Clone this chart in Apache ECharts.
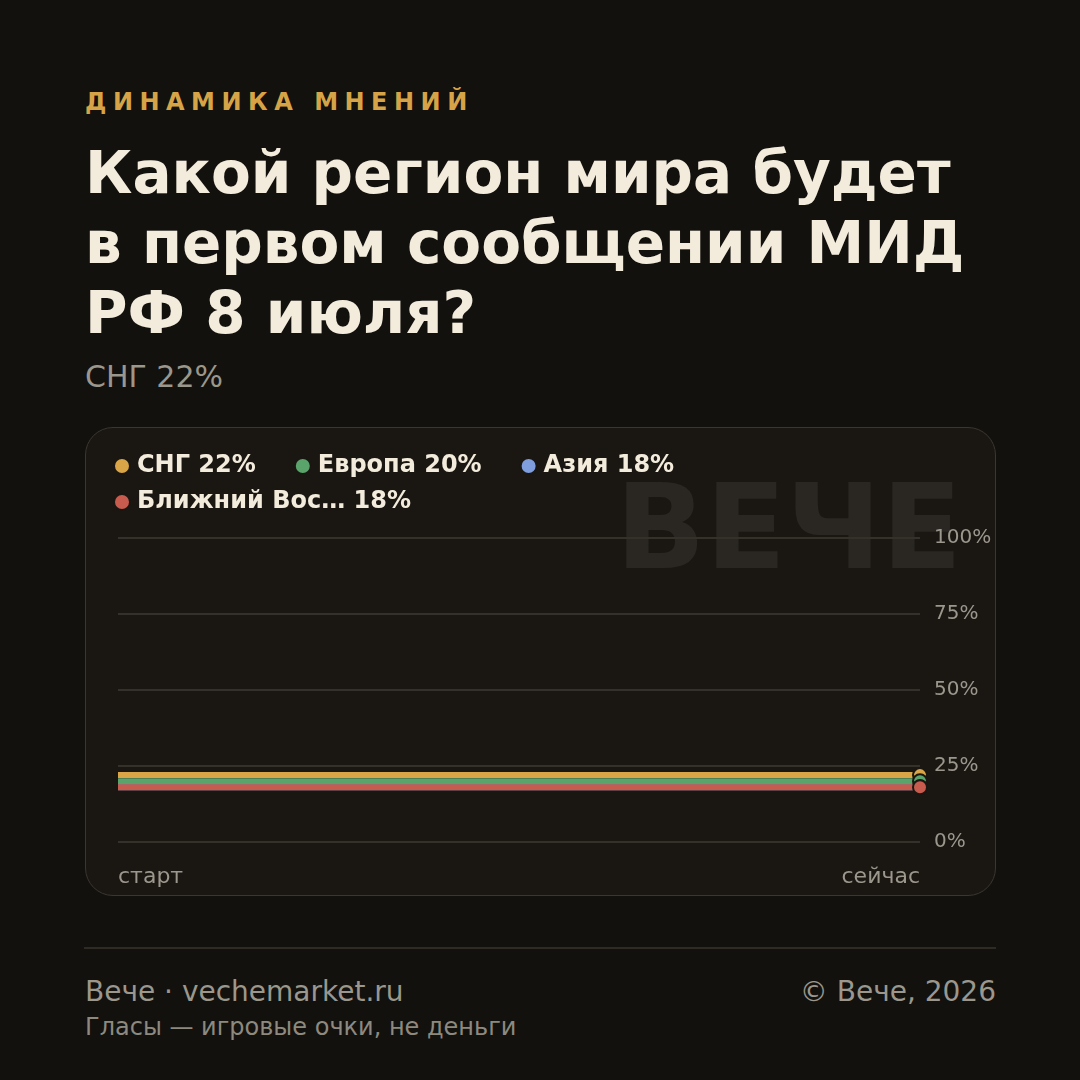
<!DOCTYPE html>
<html>
<head>
<meta charset="utf-8">
<script src="https://cdn.jsdelivr.net/npm/echarts@6/dist/echarts.min.js"></script>
<style>
  html, body { margin: 0; padding: 0; background: #12110e; }
  body { width: 1080px; height: 1080px; position: relative; overflow: hidden; font-family: "DejaVu Sans", sans-serif; }
  .abs { position: absolute; white-space: nowrap; }
  #kicker { left: 85px; top: 90px; font-size: 24px; line-height: 24px; font-weight: bold; color: #d6a446; letter-spacing: 6.5px; }
  #title { left: 85px; top: 138px; font-size: 58px; line-height: 70px; font-weight: bold; color: #f3ecdc; }
  #lead { left: 85px; top: 362px; font-size: 30px; line-height: 30px; color: #9b978c; }
  #card { left: 85px; top: 427px; width: 909px; height: 467px; background: #1a1713; border: 1px solid #3a3630; border-radius: 28px; }
  #chart { left: 85px; top: 427px; width: 911px; height: 469px; }
  #rule { left: 84px; top: 947px; width: 912px; height: 2px; background: #2e2a24; }
  #site { left: 85px; top: 978px; font-size: 28px; line-height: 28px; color: #9b978c; }
  #copy { right: 84px; top: 978px; font-size: 28px; line-height: 28px; color: #9b978c; }
  #note { left: 85px; top: 1015px; font-size: 24px; line-height: 24px; color: #8d897f; }
</style>
</head>
<body>
<div class="abs" id="kicker">ДИНАМИКА МНЕНИЙ</div>
<div class="abs" id="title">Какой регион мира будет<br>в первом сообщении МИД<br>РФ 8 июля?</div>
<div class="abs" id="lead">СНГ 22%</div>
<div class="abs" id="card"></div>
<div class="abs" id="chart"></div>
<div class="abs" id="rule"></div>
<div class="abs" id="site">Вече · vechemarket.ru</div>
<div class="abs" id="copy">© Вече, 2026</div>
<div class="abs" id="note">Гласы — игровые очки, не деньги</div>
<script>
(function() {
  var timeLabels = ['старт', 'сейчас'];
  var regionNames = ['СНГ', 'Европа', 'Азия', 'Ближний Восток'];
  var regionColors = ['#d9a547', '#5aa46c', '#7f9ede', '#c65b4e'];
  var sngValues = [22, 22];
  var europeValues = [20, 20];
  var asiaValues = [18, 18];
  var middleEastValues = [18, 18];
  var yTicks = [0, 25, 50, 75, 100];

  var allValues = [sngValues, europeValues, asiaValues, middleEastValues];
  var ink = '#f3ecdc';
  var muted = '#9b978c';
  var rule = '#34312b';

  function shortName(n) {
    return n.length > 12 ? n.slice(0, 11) + '…' : n;
  }
  var current = {};
  regionNames.forEach(function(n, i) {
    var v = allValues[i];
    current[n] = v[v.length - 1];
  });
  function legendFmt(n) { return shortName(n) + ' ' + current[n] + '%'; }

  var legendBase = {
    icon: 'circle',
    itemWidth: 16,
    itemHeight: 16,
    itemGap: 38,
    padding: 0,
    orient: 'horizontal',
    formatter: legendFmt,
    textStyle: { color: ink, fontSize: 24, fontWeight: 'bold', fontFamily: 'DejaVu Sans', padding: [0, 0, 0, 2] },
    selectedMode: false
  };

  var series = regionNames.map(function(n, i) {
    var last = allValues[i].length - 1;
    return {
      name: n,
      type: 'line',
      data: allValues[i],
      lineStyle: { width: 6, color: regionColors[i] },
      itemStyle: { color: regionColors[i], borderColor: '#1a1713', borderWidth: 2 },
      symbol: 'circle',
      symbolSize: function(v, p) { return p.dataIndex === last ? 14 : 0; },
      showSymbol: true,
      z: 3 + i
    };
  });

  var chart = echarts.init(document.getElementById('chart'), null, { renderer: 'canvas' });
  chart.setOption({
    animation: false,
    color: regionColors,
    legend: [
      Object.assign({ left: 28, top: 27, data: regionNames.slice(0, 3) }, legendBase),
      Object.assign({ left: 28, top: 63, data: regionNames.slice(3) }, legendBase)
    ],
    graphic: [{
      type: 'text',
      z: 0,
      silent: true,
      style: {
        text: 'ВЕЧЕ',
        x: 877,
        y: 169,
        textAlign: 'right',
        textVerticalAlign: 'bottom',
        font: 'bold 118px "DejaVu Sans"',
        fill: '#2a2722'
      }
    }],
    grid: { left: 33, right: 76, top: 111, bottom: 54 },
    xAxis: {
      type: 'category',
      data: timeLabels,
      boundaryGap: false,
      axisLine: { show: false },
      axisTick: { show: false },
      axisLabel: {
        color: muted, fontSize: 22, fontFamily: 'DejaVu Sans', margin: 24,
        alignMinLabel: 'left', alignMaxLabel: 'right'
      }
    },
    yAxis: {
      type: 'value',
      position: 'right',
      min: yTicks[0],
      max: yTicks[yTicks.length - 1],
      interval: yTicks[1] - yTicks[0],
      axisLine: { show: false },
      axisTick: { show: false },
      axisLabel: { formatter: '{value}%', color: muted, fontSize: 20, fontFamily: 'DejaVu Sans', margin: 14 },
      splitLine: { lineStyle: { color: rule, width: 2 } }
    },
    series: series
  });
})();
</script>
</body>
</html>
